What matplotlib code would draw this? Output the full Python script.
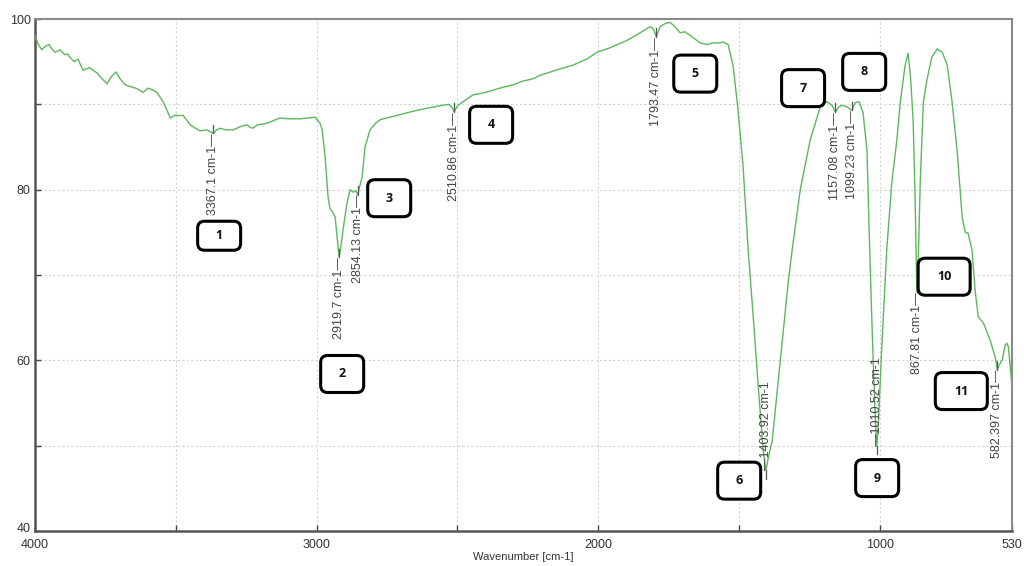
import matplotlib
matplotlib.use('Agg')
import matplotlib.pyplot as plt
from matplotlib.patches import FancyBboxPatch
from matplotlib.transforms import IdentityTransform, ScaledTranslation

# ---------------- data ----------------
wavenumber = [4000, 3988, 3976, 3963, 3950, 3940, 3929, 3911, 3900, 3893, 3884, 3876, 3861, 3847,
              3838, 3829, 3815, 3805, 3790, 3780, 3762, 3744, 3730, 3712, 3698, 3680, 3665, 3652,
              3635, 3616, 3599, 3583, 3567, 3545, 3530, 3520, 3503, 3488, 3474, 3460, 3449, 3430,
              3414, 3389, 3378, 3367, 3355, 3343, 3320, 3297, 3270, 3247, 3236, 3226, 3210, 3190,
              3176, 3160, 3130, 3100, 3059, 3030, 3005, 2988, 2980, 2970, 2959, 2952, 2945, 2934,
              2927, 2920, 2913, 2906, 2892, 2881, 2870, 2862, 2854, 2846, 2838, 2828, 2810, 2790,
              2774, 2740, 2714, 2680, 2643, 2600, 2550, 2530, 2518, 2511, 2500, 2480, 2445, 2400,
              2338, 2300, 2270, 2230, 2206, 2150, 2089, 2040, 2004, 1960, 1897, 1860, 1830, 1815,
              1805, 1793, 1780, 1760, 1744, 1727, 1709, 1691, 1666, 1638, 1613, 1592, 1570, 1556,
              1538, 1520, 1503, 1485, 1467, 1449, 1432, 1414, 1404, 1393, 1382, 1353, 1325, 1311,
              1282, 1247, 1211, 1187, 1170, 1157, 1145, 1134, 1116, 1099, 1087, 1073, 1059, 1045,
              1038, 1030, 1022, 1014, 1010, 1004, 993, 975, 957, 939, 927, 910, 899, 890, 881,
              874, 868, 862, 856, 845, 832, 815, 796, 778, 760, 743, 725, 707, 696, 686, 672, 661,
              650, 632, 608, 590, 582, 575, 565, 554, 548, 543, 530]
transmittance = [98.0, 97.0, 96.4, 96.8, 97.0, 96.5, 96.1, 96.4, 96.0, 95.8, 95.9, 95.5, 95.0, 95.3,
                 94.6, 94.0, 94.2, 94.3, 93.9, 93.7, 93.0, 92.4, 93.2, 93.8, 93.0, 92.3, 92.1, 92.0,
                 91.8, 91.4, 91.9, 91.7, 91.4, 90.3, 89.2, 88.4, 88.7, 88.7, 88.7, 88.1, 87.6, 87.2,
                 86.9, 87.0, 86.8, 86.6, 87.0, 87.2, 87.0, 87.0, 87.4, 87.6, 87.3, 87.2, 87.6, 87.7,
                 87.8, 88.0, 88.4, 88.3, 88.3, 88.4, 88.5, 87.8, 87.0, 84.0, 79.1, 77.7, 77.5, 76.8,
                 74.5, 72.1, 73.5, 75.3, 78.4, 80.0, 79.7, 79.9, 79.4, 80.5, 81.5, 85.0, 87.0, 87.8,
                 88.2, 88.5, 88.7, 89.0, 89.3, 89.6, 89.9, 90.0, 89.6, 89.1, 89.8, 90.3, 91.1, 91.4,
                 92.0, 92.3, 92.7, 93.0, 93.4, 94.0, 94.6, 95.3, 96.1, 96.6, 97.5, 98.2, 98.8, 99.1,
                 98.9, 97.9, 99.1, 99.5, 99.6, 99.1, 98.4, 98.5, 97.9, 97.2, 97.0, 97.2, 97.2, 97.3,
                 97.0, 94.4, 89.3, 82.7, 72.9, 65.1, 57.3, 49.5, 47.1, 49.0, 50.5, 60.0, 69.1, 72.9,
                 80.0, 85.8, 89.7, 90.3, 89.9, 89.1, 89.7, 89.9, 89.7, 89.3, 90.2, 90.3, 89.0, 84.6,
                 76.0, 67.0, 59.0, 52.0, 50.0, 53.0, 61.2, 72.9, 80.8, 85.8, 90.2, 94.5, 96.0, 93.0,
                 88.0, 78.8, 68.0, 72.9, 80.8, 90.2, 92.9, 95.5, 96.5, 96.1, 94.6, 90.3, 84.6, 76.8,
                 75.0, 74.9, 72.9, 68.2, 65.1, 64.4, 62.4, 60.4, 58.9, 59.5, 60.0, 61.8, 62.0, 61.6, 57.0]

peak_wn = [3367.1, 2919.7, 2854.13, 2510.86, 1793.47, 1403.92, 1157.08, 1099.23, 1010.52, 867.81, 582.397]
peak_text = ['3367.1', '2919.7', '2854.13', '2510.86', '1793.47', '1403.92', '1157.08',
             '1099.23', '1010.52', '867.81', '582.397']
peak_T = [86.6, 72.1, 79.4, 89.1, 97.9, 47.1, 89.1, 89.3, 50.0, 68.0, 58.9]
peak_label_above = [False, False, False, False, False, True, False, False, True, False, False]

box_labels = ['1', '2', '3', '4', '5', '6', '7', '8', '9', '10', '11']
box_wn = [3346, 2909, 2742, 2380, 1655, 1499, 1272, 1055, 1009, 771, 710]
box_T = [74.6, 58.4, 79.0, 87.6, 93.6, 45.9, 91.9, 93.8, 46.2, 69.8, 56.4]

x_ticks = [4000, 3000, 2000, 1000, 530]
x_minor = [3500, 2500, 1500]
y_ticks = [40, 60, 80, 100]
y_minor = [50, 70, 90]

# ---------------- figure ----------------
plt.rcParams['font.family'] = ['Liberation Sans', 'DejaVu Sans']
fig = plt.figure(figsize=(10.24, 5.66), dpi=100)
ax = fig.add_axes([35 / 1024, 35 / 566, (1012 - 35) / 1024, (531 - 19) / 566])

ax.plot(wavenumber, transmittance, color='#5cb85c', lw=1.0, zorder=3)
ax.set_xlim(4000, 530)
ax.set_ylim(40, 100)

ax.set_xticks(x_ticks)
ax.set_xticks(x_minor, minor=True)
ax.set_yticks(y_ticks, labels=[''] + [str(v) for v in y_ticks[1:]])
ax.set_yticks(y_minor, minor=True)
ax.tick_params(which='both', direction='in', length=4, width=1, color='#444444',
               labelsize=9, labelcolor='#333333', pad=3)
ax.tick_params(axis='x', pad=6)
ax.grid(which='both', color='#d4d4d4', linestyle=(0, (2, 2)), lw=0.8, zorder=0)

# lowest y label nudged up a little so it sits just above the "4000" label
ax.text(0, y_ticks[0], str(y_ticks[0]), ha='right', va='center', fontsize=9, color='#333333',
        transform=ax.get_yaxis_transform() + ScaledTranslation(-3 / 72, 1.5 / 72, fig.dpi_scale_trans))

for side in ['left', 'bottom']:
    ax.spines[side].set_color('#555555')
    ax.spines[side].set_linewidth(1.8)
for side in ['top', 'right']:
    ax.spines[side].set_color('#8a8a8a')
    ax.spines[side].set_linewidth(1.5)

ax.set_xlabel('Wavenumber [cm-1]', fontsize=8, color='#333333', labelpad=0.5)

# peak markers and labels
for wn, T, txt, above in zip(peak_wn, peak_T, peak_text, peak_label_above):
    if above:
        ax.plot([wn, wn], [T, T - 1.0], color='#555555', lw=0.9, zorder=4)
        ax.annotate('\u2014' + txt + ' cm-1', xy=(wn, T), xytext=(0, 0),
                    textcoords='offset points', rotation=90, ha='center', va='bottom',
                    fontsize=9, color='#444444', zorder=5)
    else:
        ax.plot([wn, wn], [T, T + 1.0], color='#555555', lw=0.9, zorder=4)
        ax.annotate(txt + ' cm-1\u2014', xy=(wn, T), xytext=(0, 0),
                    textcoords='offset points', rotation=90, ha='center', va='top',
                    fontsize=9, color='#444444', zorder=5)

# numbered boxes
for lab, wn, T in zip(box_labels, box_wn, box_T):
    cx, cy = ax.transData.transform((wn, T))
    w = 52 if len(lab) > 1 else 43
    h = 29 if lab == '1' else 37
    patch = FancyBboxPatch((cx - w / 2, cy - h / 2), w, h,
                           boxstyle='round,pad=0,rounding_size=7',
                           transform=IdentityTransform(), fc='white', ec='black',
                           lw=2.2, zorder=6)
    fig.add_artist(patch)
    fig.text(cx, cy, lab, transform=IdentityTransform(), ha='center', va='center',
             fontsize=9, fontweight='bold', color='#111111', zorder=7,
             family=['Open Sans', 'DejaVu Sans'])

fig.savefig('out.png', dpi=100)
